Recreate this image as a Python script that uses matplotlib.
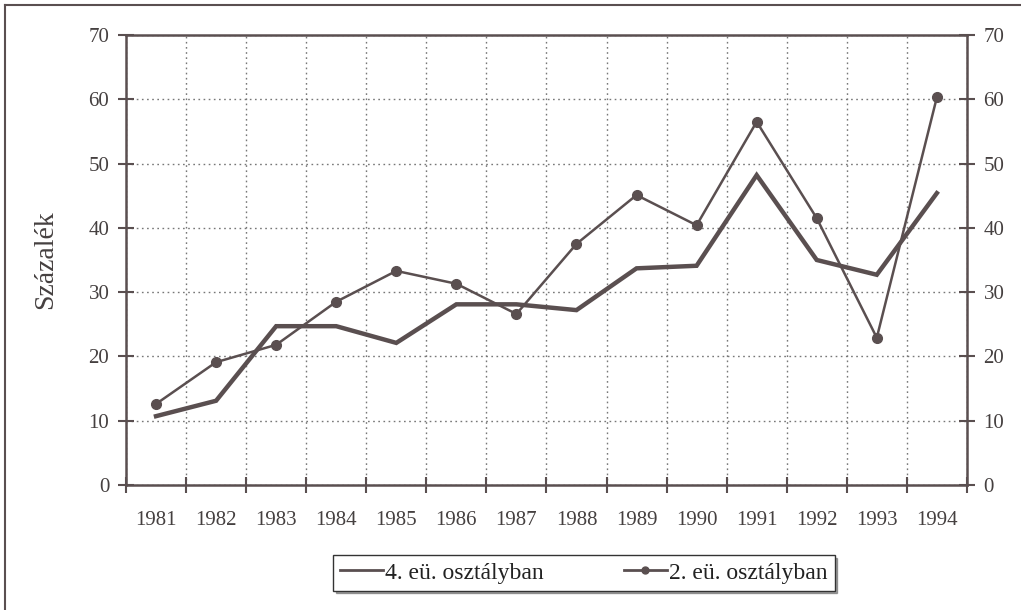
import numpy as np
import matplotlib.pyplot as plt
from matplotlib.lines import Line2D

plt.rcParams['font.family'] = ['Liberation Serif', 'DejaVu Serif']

years = ['1981', '1982', '1983', '1984', '1985', '1986', '1987',
         '1988', '1989', '1990', '1991', '1992', '1993', '1994']
oszt4 = [10.7, 13.1, 24.7, 24.7, 22.1, 28.1, 28.1,
         27.2, 33.7, 34.1, 48.2, 35.0, 32.7, 45.4]
oszt2 = [12.6, 19.1, 21.8, 28.5, 33.3, 31.3, 26.6,
         37.5, 45.1, 40.4, 56.5, 41.5, 22.9, 60.3]

ink = '#5a4f50'
txt = '#454040'

fig = plt.figure(figsize=(10.21, 6.10), dpi=100)
ax = fig.add_axes([0.1234, 0.205, 0.8236, 0.7376])

x = np.arange(len(years))
ax.plot(x, oszt4, color=ink, lw=3.2, solid_joinstyle='miter',
        label='4. eü. osztályban', zorder=3)
ax.plot(x, oszt2, color=ink, lw=1.8, marker='o', ms=7,
        label='2. eü. osztályban', zorder=4)

ax.set_xlim(-0.5, len(years) - 0.5)
ax.set_ylim(0, 70)
ax.set_yticks(range(0, 71, 10))

# ticks and grid on the category boundaries
ax.set_xticks(np.arange(-0.5, len(years) - 0.4, 1))
ax.set_xticklabels([])
ax.set_xticks(x, minor=True)
ax.set_xticklabels(years, minor=True, fontsize=15, color=txt)
ax.tick_params(axis='x', which='minor', length=0, pad=19)
ax.tick_params(axis='x', which='major', direction='inout', length=12,
               width=1.5, color=ink)
ax.tick_params(axis='y', direction='inout', length=12, width=1.5,
               color=ink, labelsize=15, labelcolor=txt, pad=6)
ax.grid(True, which='major', linestyle=(0, (1.2, 2.5)), color='#777777', lw=1)

for s in ax.spines.values():
    s.set_color(ink)
    s.set_linewidth(1.8)

ax2 = ax.twinx()
ax2.set_ylim(0, 70)
ax2.set_yticks(range(0, 71, 10))
ax2.tick_params(axis='y', direction='inout', length=12, width=1.5,
                color=ink, labelsize=15, labelcolor=txt, pad=6)
for s in ax2.spines.values():
    s.set_visible(False)

ax.set_ylabel('Százalék', fontsize=20, color=txt, labelpad=22)

leg = fig.legend(loc='center', bbox_to_anchor=(0.572, 0.061), ncol=2,
                 fontsize=17, frameon=True, fancybox=False, shadow=True,
                 columnspacing=3.4, handlelength=1.8, handletextpad=0.1,
                 borderpad=0.3)
leg.get_frame().set_edgecolor('#333333')
leg.get_frame().set_linewidth(1.0)
for h in leg.legend_handles:
    h.set_linewidth(2)
    h.set_markersize(5)
for t in leg.get_texts():
    t.set_color('#222222')

# page frame (left and top edges)
fig.add_artist(Line2D([0.005, 0.005], [0.0, 0.992], transform=fig.transFigure,
                      color=ink, lw=1.5))
fig.add_artist(Line2D([0.005, 1.0], [0.992, 0.992], transform=fig.transFigure,
                      color=ink, lw=1.5))

fig.savefig('out.png', dpi=100)
